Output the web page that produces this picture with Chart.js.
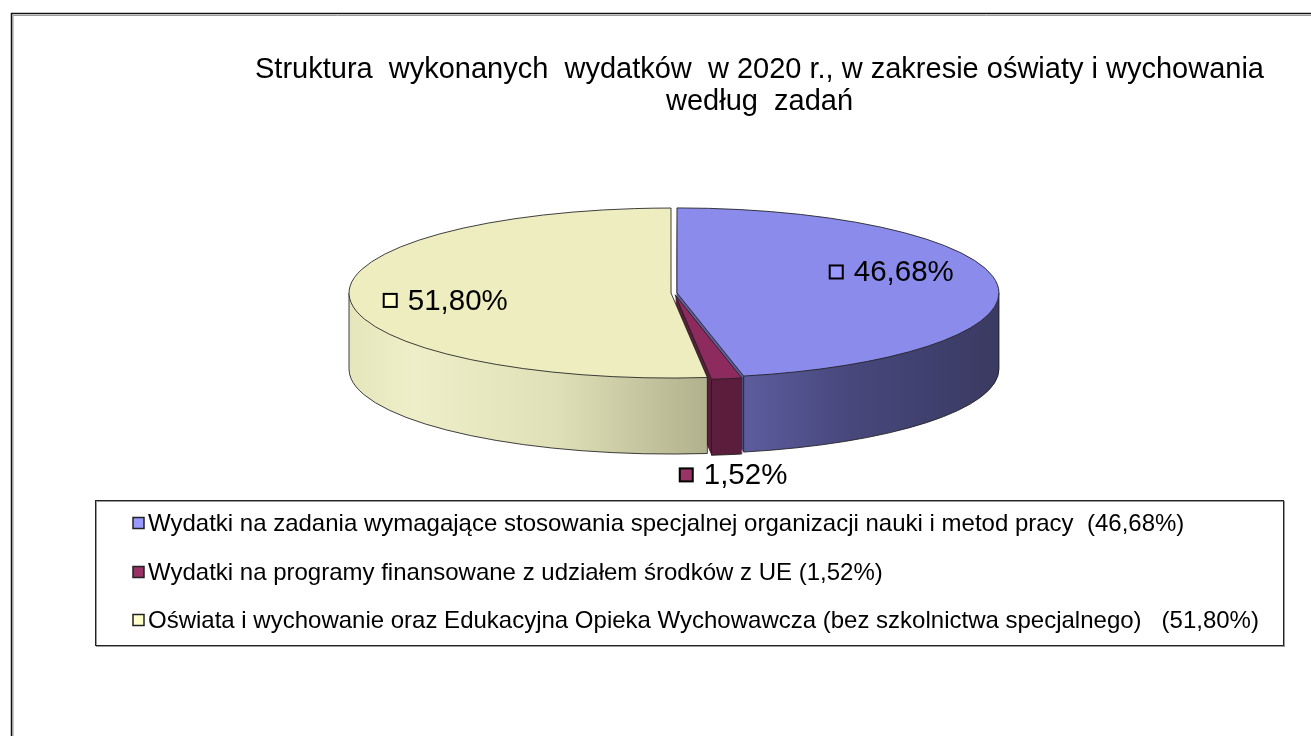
<!DOCTYPE html>
<html><head><meta charset="utf-8">
<script src="https://cdn.jsdelivr.net/npm/chart.js@4/dist/chart.umd.min.js"></script>
<style>html,body{margin:0;padding:0;background:#fff;overflow:hidden}</style>
</head><body>
<canvas id="c" width="1311" height="736"></canvas>
<script>
// ---- data ----
const categories = [
  'Wydatki na zadania wymagające stosowania specjalnej organizacji nauki i metod pracy',
  'Wydatki na programy finansowane z udziałem środków z UE',
  'Oświata i wychowanie oraz Edukacyjna Opieka Wychowawcza (bez szkolnictwa specjalnego)'
];
const shares = [46.68, 1.52, 51.80];
const valueLabels = ['46,68%', '1,52%', '51,80%'];
const legendLabels = [
  'Wydatki na zadania wymagające stosowania specjalnej organizacji nauki i metod pracy  (46,68%)',
  'Wydatki na programy finansowane z udziałem środków z UE (1,52%)',
  'Oświata i wychowanie oraz Edukacyjna Opieka Wychowawcza (bez szkolnictwa specjalnego)   (51,80%)'
];
const titleLines = [
  'Struktura  wykonanych  wydatków  w 2020 r., w zakresie oświaty i wychowania',
  'według  zadań'
];

// ---- styles ----
const FONT = "'Liberation Sans', Arial, sans-serif";
const topColors = ['#8B8BEB', '#8E2B5E', '#EDEDC0'];
const keyColors = ['#9999FF', '#993366', '#FFFFCC'];
const sideStops = [
  [[0, '#6A6AB0'], [0.61, '#5C5C9C'], [0.77, '#47477C'], [1, '#3A3A62']],
  [[0, '#5E1F3E'], [1, '#5A1C3B']],
  [[0, '#E6E6BC'], [0.1, '#EEEEC8'], [0.32, '#E0E0B8'], [0.55, '#B2B28E'], [1, '#A8A888']]
];
const explode = [3, 7, 3];
const geo = { cx: 674, cy: 293, ry: 85, depth: 76 };
const labelPlace = [
  { f: 0.68, dx: 0, dy: -15, outside: false },
  { f: 1.0, dx: 8, dy: 22, outside: true },
  { f: 0.71, dx: 0, dy: 4, outside: false }
];

function mid(a) { return (a.startAngle + a.endAngle) / 2; }

const pie3d = {
  id: 'pie3d',
  beforeDatasetsDraw(chart) {
    const ctx = chart.ctx;
    const arcs = chart.getDatasetMeta(0).data;
    const r = arcs[0].outerRadius, ex = arcs[0].x, ey = arcs[0].y;
    const sy = geo.ry / r;
    const local = (i, dy) => {
      ctx.translate(geo.cx, geo.cy + dy);
      ctx.scale(1, sy);
      ctx.translate(-ex, -ey);
      const m = mid(arcs[i]);
      ctx.translate(Math.cos(m) * explode[i], Math.sin(m) * explode[i]);
    };
    const grads = sideStops.map(st => {
      const g = ctx.createLinearGradient(ex - r, 0, ex + r, 0);
      st.forEach(([p, c]) => g.addColorStop(p, c));
      return g;
    });
    const drawWith = (i, fill) => {
      const a = arcs[i];
      const p = Object.create(a);
      p.options = Object.assign({}, a.options, { backgroundColor: fill, borderWidth: 0, offset: 0, spacing: 0 });
      a.draw.call(p, ctx);
    };
    // side walls
    for (let k = geo.depth; k >= 1; k--) {
      arcs.forEach((a, i) => { ctx.save(); local(i, k); drawWith(i, grads[i]); ctx.restore(); });
    }
    // outlines of sides
    ctx.save();
    ctx.strokeStyle = 'rgba(30,30,30,0.85)';
    ctx.lineWidth = 1;
    arcs.forEach((a, i) => {
      const s = Math.max(a.startAngle, 0), e = Math.min(a.endAngle, Math.PI);
      if (e > s) {
        ctx.beginPath();
        ctx.save(); local(i, geo.depth); ctx.arc(a.x, a.y, a.outerRadius, s, e); ctx.restore();
        ctx.stroke();
      }
      const verts = [a.startAngle, a.endAngle];
      if (a.startAngle < 0 && a.endAngle > 0) verts.push(0);
      if (a.startAngle < Math.PI && a.endAngle > Math.PI) verts.push(Math.PI);
      verts.forEach(ang => {
        if (ang >= -1e-6 && ang <= Math.PI + 1e-6) {
          const px = a.x + Math.cos(ang) * a.outerRadius, py = a.y + Math.sin(ang) * a.outerRadius;
          ctx.beginPath();
          ctx.save(); local(i, 0); ctx.moveTo(px, py); ctx.restore();
          ctx.save(); local(i, geo.depth); ctx.lineTo(px, py); ctx.restore();
          ctx.stroke();
        }
      });
    });
    ctx.restore();
    // top faces
    arcs.forEach((a, i) => { ctx.save(); local(i, 0); drawWith(i, topColors[i]); ctx.restore(); });
    ctx.save();
    ctx.strokeStyle = 'rgba(30,30,30,0.85)';
    ctx.lineWidth = 1;
    arcs.forEach((a, i) => {
      ctx.beginPath();
      ctx.save(); local(i, 0);
      ctx.moveTo(a.x, a.y);
      ctx.arc(a.x, a.y, a.outerRadius, a.startAngle, a.endAngle);
      ctx.closePath();
      ctx.restore();
      ctx.stroke();
    });
    ctx.restore();
    return false;
  },
  afterDraw(chart) {
    const ctx = chart.ctx;
    const arcs = chart.getDatasetMeta(0).data;
    // outer frame
    ctx.save();
    ctx.strokeStyle = '#9a9a9a'; ctx.lineWidth = 1;
    ctx.beginPath(); ctx.moveTo(13, 736); ctx.lineTo(13, 15.5); ctx.lineTo(1311, 15.5); ctx.stroke();
    ctx.strokeStyle = '#111'; ctx.lineWidth = 1.5;
    ctx.beginPath(); ctx.moveTo(11.5, 736); ctx.lineTo(11.5, 13.5); ctx.lineTo(1311, 13.5); ctx.stroke();
    ctx.restore();
    // data labels
    ctx.save();
    ctx.font = '29.5px ' + FONT;
    ctx.textBaseline = 'middle';
    ctx.fillStyle = '#000';
    arcs.forEach((a, i) => {
      const m = mid(a), pl = labelPlace[i];
      let x = geo.cx + pl.f * a.outerRadius * Math.cos(m) + pl.dx;
      let y = geo.cy + pl.f * geo.ry * Math.sin(m) + pl.dy + (pl.outside ? geo.depth : 0);
      const tw = ctx.measureText(valueLabels[i]).width;
      const box = 13, gap = 11;
      const total = box + gap + tw;
      const x0 = x - total / 2;
      ctx.fillStyle = keyColors[i];
      ctx.fillRect(x0, y - box / 2, box, box);
      ctx.strokeStyle = '#000'; ctx.lineWidth = 2;
      ctx.strokeRect(x0, y - box / 2, box, box);
      ctx.fillStyle = '#000';
      ctx.textAlign = 'left';
      ctx.fillText(valueLabels[i], x0 + box + gap, y + 1);
    });
    ctx.restore();
    // legend
    ctx.save();
    const L = { x: 95, y: 500, w: 1188, h: 145, rows: [523, 572, 620], keyX: 133, key: 11, textX: 148 };
    ctx.strokeStyle = '#9a9a9a'; ctx.lineWidth = 1;
    ctx.strokeRect(L.x + 1.5, L.y + 1.5, L.w, L.h);
    ctx.strokeStyle = '#222'; ctx.lineWidth = 1;
    ctx.strokeRect(L.x + 0.5, L.y + 0.5, L.w, L.h);
    ctx.font = '24px ' + FONT;
    ctx.textBaseline = 'middle';
    legendLabels.forEach((t, i) => {
      const y = L.rows[i];
      ctx.fillStyle = keyColors[i];
      ctx.fillRect(L.keyX, y - L.key / 2, L.key, L.key);
      ctx.strokeStyle = '#222'; ctx.lineWidth = 1.5;
      ctx.strokeRect(L.keyX, y - L.key / 2, L.key, L.key);
      ctx.fillStyle = '#000';
      ctx.fillText(t, L.textX, y + 1);
    });
    ctx.restore();
  }
};

new Chart(document.getElementById('c'), {
  type: 'pie',
  data: {
    labels: categories,
    datasets: [{ data: shares, backgroundColor: topColors, borderWidth: 0, radius: 322 }]
  },
  options: {
    responsive: false,
    animation: false,
    events: [],
    layout: { padding: { left: 208, right: 0, top: 0, bottom: 0 } },
    plugins: {
      legend: { display: false },
      tooltip: { enabled: false },
      title: {
        display: true,
        text: titleLines,
        color: '#000',
        font: { family: FONT, size: 29, weight: 'normal', lineHeight: 1.1 },
        padding: { top: 54, bottom: 10 }
      }
    }
  },
  plugins: [pie3d]
});
</script>
</body></html>
